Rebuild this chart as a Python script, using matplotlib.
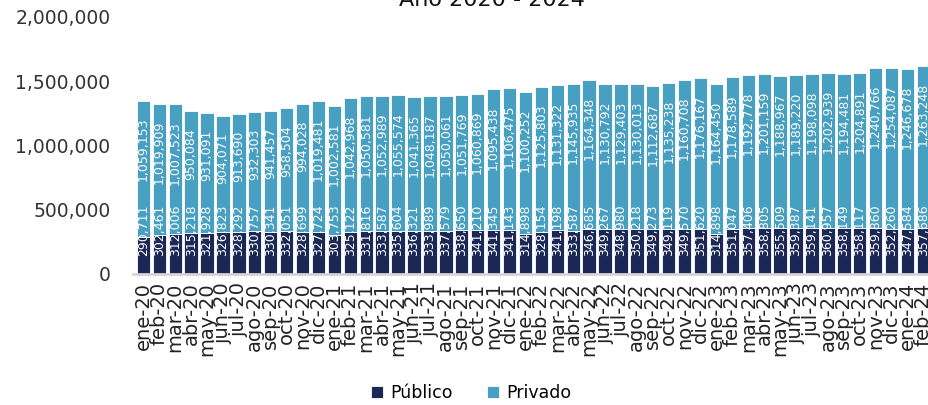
import numpy as np
import matplotlib.pyplot as plt
from matplotlib.ticker import FuncFormatter

# Monthly series, ene-20 .. feb-24
meses = ['ene', 'feb', 'mar', 'abr', 'may', 'jun', 'jul', 'ago', 'sep', 'oct', 'nov', 'dic']
etiquetas = [f'{m}-{a}' for a in ['20', '21', '22', '23'] for m in meses] + ['ene-24', 'feb-24']

publico = [290711, 302461, 312006, 315218, 321928, 326823, 328292, 330757, 330341, 332051, 328699, 327724,
           303753, 325122, 331816, 333587, 335604, 336321, 333989, 337579, 338650, 341210, 341345, 341143,
           314898, 328154, 341198, 333587, 346685, 349267, 348980, 350218, 349273, 349119, 349570, 351620,
           314898, 351047, 357406, 358805, 355509, 359387, 359141, 360957, 358149, 358117, 359860, 352260,
           347584, 357686]

privado = [1059153, 1019909, 1007523, 950084, 931091, 904071, 913690, 932303, 941457, 958504, 994028, 1019481,
           1002581, 1042968, 1050581, 1052989, 1055574, 1041365, 1048187, 1050061, 1051769, 1060869, 1095438, 1106475,
           1100252, 1125803, 1131322, 1145935, 1164348, 1130792, 1129403, 1130013, 1112687, 1135238, 1160708, 1176167,
           1164450, 1178589, 1192778, 1201159, 1188967, 1189220, 1198098, 1202939, 1194481, 1204891, 1240766, 1254087,
           1246678, 1263248]

c_pub = '#1b2755'
c_priv = '#479fc1'

fig = plt.figure(figsize=(9.29, 4.05), dpi=100)
ax = fig.add_axes([0.143, 0.3235, 0.857, 0.6346])

x = np.arange(len(etiquetas))
b1 = ax.bar(x, publico, width=0.84, color=c_pub, edgecolor='white', linewidth=0.6, label='Público')
b2 = ax.bar(x, privado, width=0.84, bottom=publico, color=c_priv, edgecolor='white', linewidth=0.6,
            label='Privado')

# value labels, rotated inside the bars
for xi, p, v in zip(x, publico, privado):
    ax.annotate(f'{p:,}', (xi, 0), xytext=(0, 13), textcoords='offset points',
                rotation=90, ha='center', va='bottom', color='white', fontsize=9)
    ax.annotate(f'{v:,}', (xi, p + v), xytext=(0, -12), textcoords='offset points',
                rotation=90, ha='center', va='top', color='white', fontsize=9)

ax.set_ylim(0, 2000000)
ax.set_xlim(-0.66, 49.35)
ax.set_yticks([0, 500000, 1000000, 1500000, 2000000])
ax.yaxis.set_major_formatter(FuncFormatter(lambda v, _: f'{int(v):,}'))
ax.set_xticks(x)
ax.set_xticklabels(etiquetas, rotation=90, fontsize=14, color='#222222')
ax.tick_params(axis='y', length=0, labelsize=13.5, labelcolor='#333333', pad=16)
ax.tick_params(axis='x', length=0, pad=6)
for s in ['top', 'right', 'left']:
    ax.spines[s].set_visible(False)
ax.spines['bottom'].set_color('#d4d4d4')
ax.spines['bottom'].set_linewidth(2)

fig.legend(handles=[b1, b2], loc='center', bbox_to_anchor=(0.507, 0.03), ncol=2, frameon=False,
           fontsize=12.5, handlelength=0.7, handleheight=0.7, columnspacing=2.0, handletextpad=0.4)

fig.text(0.53, 0.985, 'Año 2020 - 2024', ha='center', va='baseline', fontsize=16, color='#111111')

fig.savefig('out.png', dpi=100)
